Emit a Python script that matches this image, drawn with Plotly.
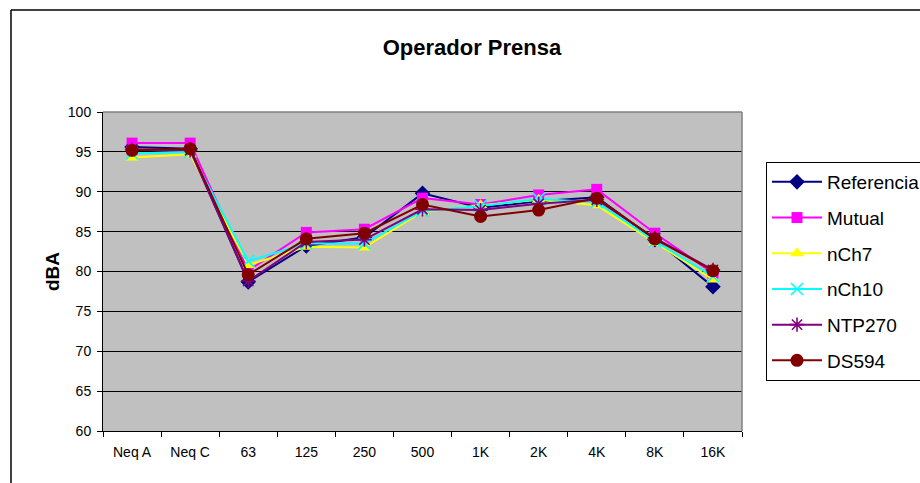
import plotly.graph_objects as go

# Frequency bands / weighted levels
categories = ["Neq A", "Neq C", "63", "125", "250", "500", "1K", "2K", "4K", "8K", "16K"]

referencia = [95.6, 95.4, 78.7, 83.2, 84.3, 89.8, 88.0, 88.8, 89.3, 84.0, 78.1]
mutual = [96.1, 96.1, 80.1, 84.9, 85.3, 89.2, 88.4, 89.6, 90.3, 84.8, 79.8]
nch7 = [94.3, 94.7, 80.8, 83.1, 83.0, 87.5, 88.3, 89.0, 88.3, 83.6, 79.0]
nch10 = [94.8, 95.0, 81.3, 83.5, 83.5, 87.6, 88.2, 89.1, 88.7, 83.8, 79.4]
ntp270 = [95.3, 95.2, 78.8, 83.7, 84.0, 87.8, 87.7, 88.5, 89.0, 84.2, 80.2]
ds594 = [95.2, 95.4, 79.6, 84.1, 84.8, 88.4, 86.9, 87.7, 89.2, 84.1, 80.1]

y_ticks = [60, 65, 70, 75, 80, 85, 90, 95, 100]

FONT = "Liberation Sans, Arial, sans-serif"

series = [
    ("Referencia", referencia, "#000080", dict(symbol="diamond", size=12)),
    ("Mutual", mutual, "#FF00FF", dict(symbol="square", size=11)),
    ("nCh7", nch7, "#FFFF00", dict(symbol="triangle-up", size=12)),
    ("nCh10", nch10, "#00FFFF", dict(symbol="x-thin-open", size=12, line=dict(width=1.6, color="#00FFFF"))),
    ("NTP270", ntp270, "#800080", dict(symbol="asterisk-open", size=12, line=dict(width=1.6, color="#800080"))),
    ("DS594", ds594, "#800000", dict(symbol="circle", size=13)),
]

fig = go.Figure()
for name, vals, color, mk in series:
    mk = dict(mk)
    mk.setdefault("color", color)
    fig.add_trace(go.Scatter(
        x=categories, y=vals, name=name, mode="lines+markers",
        line=dict(color=color, width=2),
        marker=mk, legendgroup=name,
    ))

W, H = 920, 483
L, R, T, B = 103, 742, 112, 431
pw, ph = R - L, B - T


def px(x):
    return (x - L) / pw


def py(y):
    return (B - y) / ph


shapes = [
    # outer chart frame (extends past the window)
    dict(type="line", xref="paper", yref="paper", x0=px(11), x1=px(940), y0=py(10), y1=py(10),
         line=dict(color="black", width=1.5), layer="above"),
    dict(type="line", xref="paper", yref="paper", x0=px(11), x1=px(11), y0=py(10), y1=py(500),
         line=dict(color="black", width=1.5), layer="above"),
    # plot area frame top/right
    dict(type="line", xref="paper", yref="paper", x0=0, x1=1, y0=1, y1=1,
         line=dict(color="#808080", width=1.5), layer="above"),
    dict(type="line", xref="paper", yref="paper", x0=1, x1=1, y0=0, y1=1,
         line=dict(color="#808080", width=1.5), layer="above"),
]

fig.update_layout(
    width=W, height=H,
    margin=dict(l=L, r=W - R, t=T, b=H - B, autoexpand=False),
    paper_bgcolor="white",
    plot_bgcolor="#C0C0C0",
    font=dict(family=FONT, color="black", size=13),
    title=dict(text="<b>Operador Prensa</b>", x=472 / W, xanchor="center",
               y=1 - 47 / H, yanchor="middle", font=dict(size=22, family=FONT)),
    showlegend=True,
    legend=dict(
        x=px(766), y=py(162), xanchor="left", yanchor="top",
        bgcolor="white", bordercolor="black", borderwidth=1,
        font=dict(size=19, family=FONT), tracegroupgap=8,
        itemwidth=50,
    ),
    shapes=shapes,
    xaxis=dict(
        type="category", showgrid=False, showline=True, linecolor="black", linewidth=1,
        ticks="outside", tickson="boundaries", ticklen=5, tickcolor="black",
        tickfont=dict(size=14, family=FONT), range=[-0.5, 10.5], ticklabelstandoff=8,
    ),
    yaxis=dict(
        range=[60, 100], tickvals=y_ticks, showgrid=True, gridcolor="black", gridwidth=1,
        showline=True, linecolor="black", linewidth=1, ticks="outside", ticklen=5,
        tickcolor="black", tickfont=dict(size=14, family=FONT), zeroline=False,
        ticklabelstandoff=3,
        title=dict(text="<b>dBA</b>", font=dict(size=19, family=FONT), standoff=3),
    ),
)

fig.write_html("out.html")
